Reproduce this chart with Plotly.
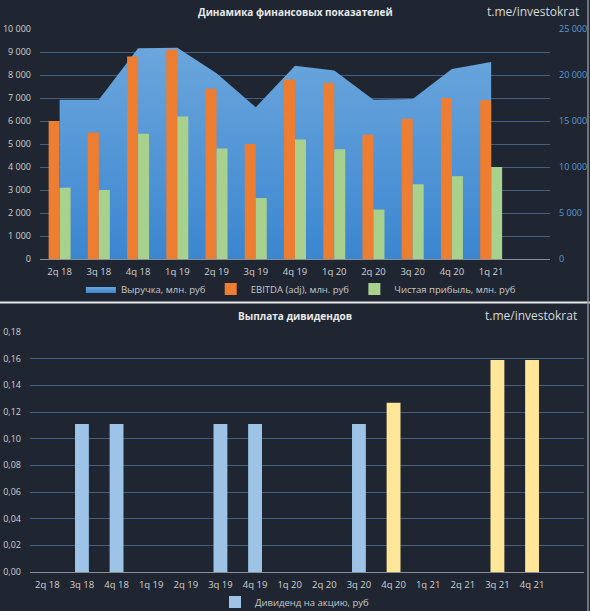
import plotly.graph_objects as go

# ---------- data: top chart ----------
quarters_top = ["2q 18", "3q 18", "4q 18", "1q 19", "2q 19", "3q 19", "4q 19",
                "1q 20", "2q 20", "3q 20", "4q 20", "1q 21"]
revenue = [17300, 17300, 22900, 22950, 20200, 16500, 21000, 20500, 17300, 17400, 20650, 21400]
ebitda = [6000, 5500, 8800, 9100, 7400, 5000, 7800, 7650, 5400, 6100, 7000, 6900]
net_profit = [3100, 3000, 5450, 6200, 4800, 2650, 5200, 4770, 2150, 3250, 3600, 4000]

left_tickvals = [0, 1000, 2000, 3000, 4000, 5000, 6000, 7000, 8000, 9000, 10000]
left_ticktext = ["0", "1 000", "2 000", "3 000", "4 000", "5 000", "6 000", "7 000",
                 "8 000", "9 000", "10 000"]
right_tickvals = [0, 5000, 10000, 15000, 20000, 25000]
right_ticktext = ["0", "5 000", "10 000", "15 000", "20 000", "25 000"]

# ---------- data: bottom chart ----------
quarters_bot = ["2q 18", "3q 18", "4q 18", "1q 19", "2q 19", "3q 19", "4q 19", "1q 20",
                "2q 20", "3q 20", "4q 20", "1q 21", "2q 21", "3q 21", "4q 21"]
dividend = [None, 0.111, 0.111, None, None, 0.111, 0.111, None,
            None, 0.111, 0.127, None, None, 0.159, 0.159]
dividend_forecast = [False, False, False, False, False, False, False, False,
                     False, False, True, False, False, True, True]
div_tickvals = [0, 0.02, 0.04, 0.06, 0.08, 0.10, 0.12, 0.14, 0.16, 0.18]
div_ticktext = ["0,00", "0,02", "0,04", "0,06", "0,08", "0,10", "0,12", "0,14", "0,16", "0,18"]

# ---------- styles ----------
W, H = 590, 611
BG = "#1f2632"
GRID = "#455f7c"
TICK = "#d0d0d0"
FONT = "Open Sans"
C_ACTUAL = "#9dc3e6"
C_FORECAST = "#ffe699"


def py(px):
    return 1 - px / H


def px_x(px):
    return px / W


fig = go.Figure()

# revenue area (right axis -> base axis 'y')
fig.add_trace(go.Scatter(
    x=quarters_top, y=revenue, name="Выручка, млн. руб",
    mode="lines", line=dict(width=0, color="#5b9bd5"),
    fill="tozeroy", fillcolor="#5b9bd5",
    fillgradient=dict(type="vertical",
                      colorscale=[[0, "#3b86d0"], [1, "#6ba6dc"]]),
    xaxis="x", yaxis="y", legend="legend", hoverinfo="skip"))

fig.add_trace(go.Bar(
    x=quarters_top, y=ebitda, name="EBITDA (adj), млн. руб",
    marker=dict(color="#ed7d31", line=dict(width=0)),
    xaxis="x", yaxis="y2", legend="legend", offsetgroup="a"))
fig.add_trace(go.Bar(
    x=quarters_top, y=net_profit, name="Чистая прибыль, млн. руб",
    marker=dict(color="#a9d18e", line=dict(width=0)),
    xaxis="x", yaxis="y2", legend="legend", offsetgroup="b"))

fig.add_trace(go.Bar(
    x=quarters_bot, y=dividend, name="Дивиденд на акцию, руб",
    marker=dict(color=[C_FORECAST if f else C_ACTUAL for f in dividend_forecast],
                line=dict(width=0)),
    width=0.4, xaxis="x2", yaxis="y3", legend="legend2"))

axis_font = dict(family=FONT, size=9, color=TICK)
cat_font = dict(family=FONT, size=9.5, color=TICK)

fig.update_layout(
    width=W, height=H,
    autosize=False,
    margin=dict(l=0, r=0, t=0, b=0, pad=0, autoexpand=False),
    paper_bgcolor=BG, plot_bgcolor=BG,
    font=dict(family=FONT, color=TICK),
    barmode="group", bargap=0.44, bargroupgap=0,
    showlegend=True,
    xaxis=dict(domain=[px_x(40), px_x(550)], anchor="y", type="category",
               range=[-0.5, 12.5], showgrid=False, zeroline=False, automargin=False,
               showline=False, tickfont=cat_font, ticks="", ticklabelstandoff=5,
               fixedrange=True),
    yaxis=dict(domain=[py(259), py(29)], anchor="x", side="right", automargin=False,
               range=[0, 25000], tickvals=right_tickvals, ticktext=right_ticktext,
               tickfont=dict(family=FONT, size=9, color="#5b9bd5"),
               showgrid=False, zeroline=False, ticklabelstandoff=8),
    yaxis2=dict(overlaying="y", anchor="x", side="left", automargin=False,
                range=[0, 10000], tickvals=left_tickvals, ticktext=left_ticktext,
                tickfont=axis_font, showgrid=True, gridcolor=GRID, gridwidth=1,
                zeroline=True, zerolinecolor="#8a8f96", zerolinewidth=1,
                ticklabelstandoff=8),
    xaxis2=dict(domain=[px_x(30), px_x(584)], anchor="y3", type="category",
                range=[-0.5, 15.5], showgrid=False, zeroline=False, automargin=False,
                showline=False, tickfont=cat_font, ticks="", ticklabelstandoff=5),
    yaxis3=dict(domain=[py(572), py(332)], anchor="x2", automargin=False,
                range=[0, 0.18], tickvals=div_tickvals, ticktext=div_ticktext,
                tickfont=axis_font, showgrid=True, gridcolor=GRID, gridwidth=1,
                zeroline=True, zerolinecolor="#8a8f96", zerolinewidth=1,
                ticklabelstandoff=8),
    legend=dict(orientation="h", x=0.51, xanchor="center", y=py(289), yanchor="middle",
                font=dict(family=FONT, size=9.5, color="#c8c8c8"),
                bgcolor="rgba(0,0,0,0)", itemwidth=30, itemclick=False),
    legend2=dict(orientation="h", x=0.5, xanchor="center", y=py(602), yanchor="middle",
                 font=dict(family=FONT, size=9.5, color="#c8c8c8"),
                 bgcolor="rgba(0,0,0,0)", itemwidth=30, itemclick=False),
    annotations=[
        dict(text="<b>Динамика финансовых показателей</b>", x=0.5, y=py(12),
             xref="paper", yref="paper", showarrow=False, yanchor="middle",
             xanchor="center", font=dict(family=FONT, size=10, color="#e8e8e8")),
        dict(text="t.me/investokrat", x=px_x(533), y=py(12),
             xref="paper", yref="paper", showarrow=False, yanchor="middle",
             xanchor="center", font=dict(family=FONT, size=12, color="#d8d8d8")),
        dict(text="<b>Выплата дивидендов</b>", x=0.5, y=py(316),
             xref="paper", yref="paper", showarrow=False, yanchor="middle",
             xanchor="center", font=dict(family=FONT, size=10, color="#e8e8e8")),
        dict(text="t.me/investokrat", x=px_x(531), y=py(315),
             xref="paper", yref="paper", showarrow=False, yanchor="middle",
             xanchor="center", font=dict(family=FONT, size=12, color="#d8d8d8")),
    ],
    shapes=[
        dict(type="line", xref="paper", yref="paper", x0=0, x1=1,
             y0=py(302.5), y1=py(302.5), line=dict(color="#e6e6e6", width=2)),
        dict(type="line", xref="paper", yref="paper", x0=px_x(588), x1=px_x(588),
             y0=0, y1=1, line=dict(color="#8a8f96", width=1.5)),
    ],
)

fig.write_html("out.html", config={"displayModeBar": False},
               post_script="document.body.style.margin='0';document.body.style.overflow='hidden';")
